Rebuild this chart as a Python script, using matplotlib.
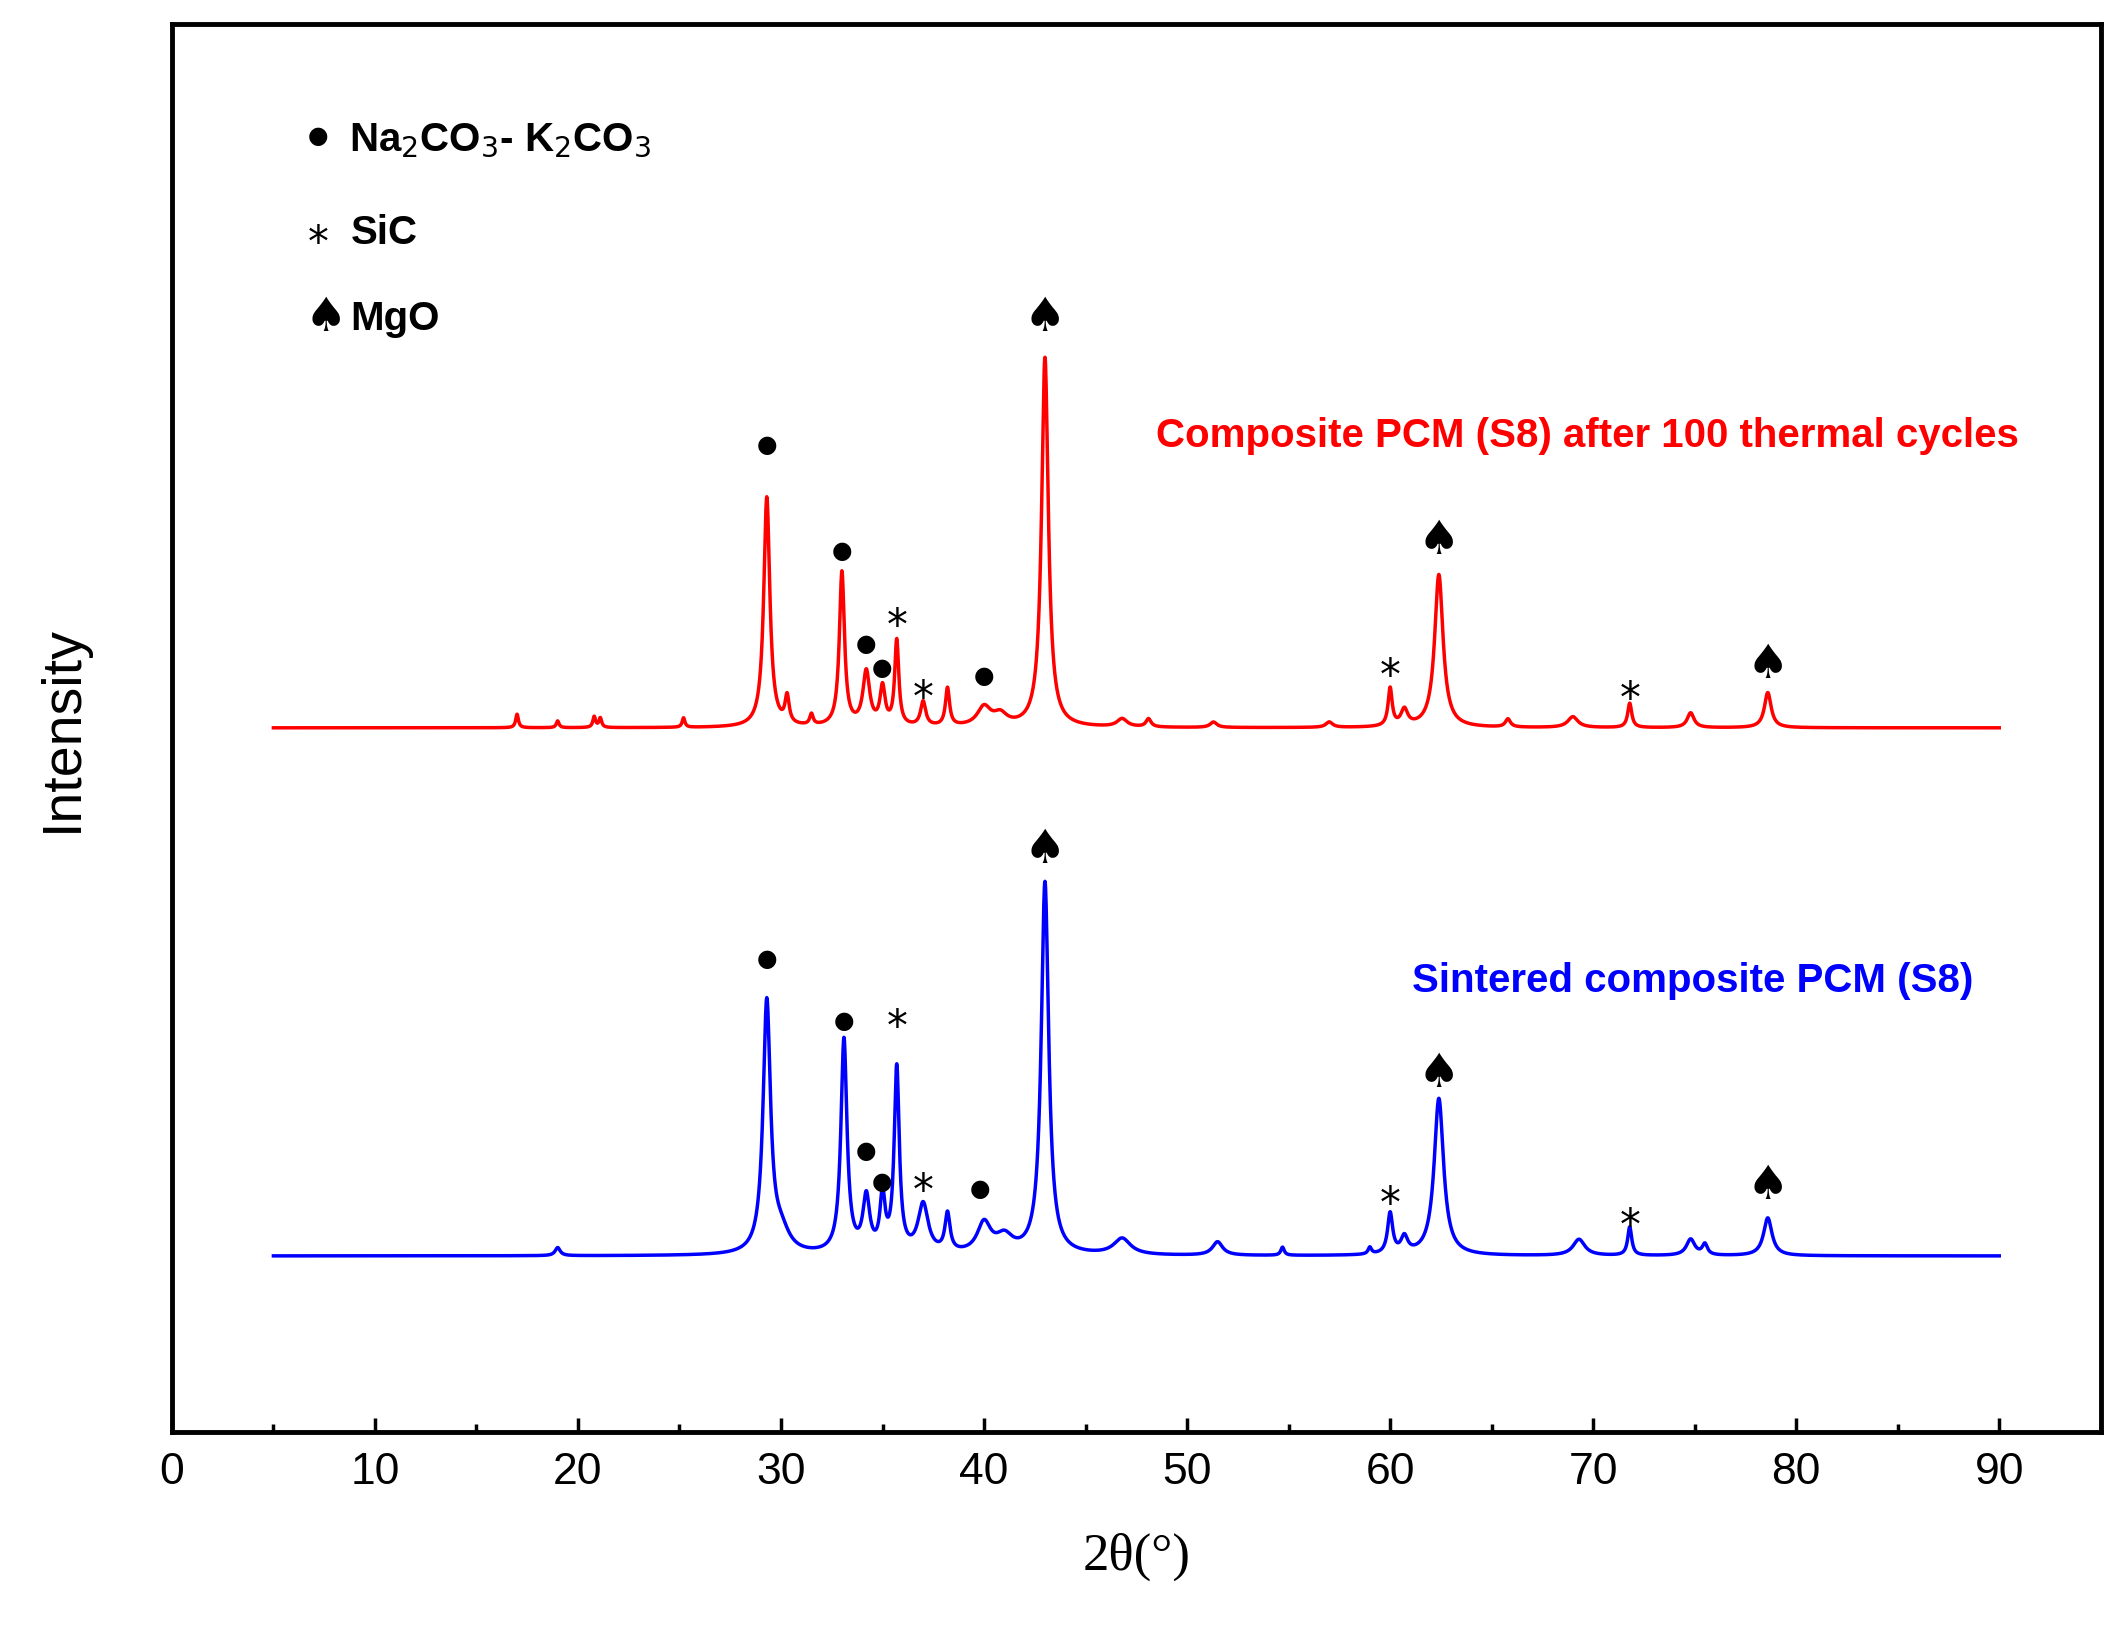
import numpy as np
import matplotlib.pyplot as plt
from matplotlib.ticker import MultipleLocator

# peak lists: position (2theta), height, half width
red_pos = [17.0, 19.0, 20.8, 21.1, 25.2, 29.3, 30.3, 31.5, 33.0, 34.2, 35.0, 35.7, 37.0, 38.2, 40.0, 40.8, 43.0,
           46.8, 48.1, 51.3, 57.0, 60.0, 60.7, 62.4, 65.8, 69.0, 71.8, 74.8, 78.6]
red_h = [10, 5, 8, 7, 7, 170, 20, 8, 114, 40, 28, 63, 18, 28, 14, 8, 273,
         6, 6, 4, 4, 28, 12, 113, 6, 8, 18, 11, 26]
red_w = [0.08, 0.08, 0.08, 0.08, 0.08, 0.18, 0.12, 0.1, 0.15, 0.2, 0.15, 0.12, 0.15, 0.12, 0.4, 0.4, 0.2,
         0.3, 0.15, 0.2, 0.2, 0.12, 0.2, 0.25, 0.15, 0.3, 0.12, 0.2, 0.2]
blue_pos = [19.0, 29.3, 30.0, 33.1, 34.2, 35.0, 35.7, 37.0, 38.2, 40.0, 41.0, 43.0, 46.8, 51.5, 54.7, 59.0,
            60.0, 60.7, 62.4, 69.3, 71.8, 74.8, 75.5, 78.6]
blue_h = [6, 185, 15, 158, 40, 40, 136, 36, 28, 22, 12, 275, 12, 10, 6, 5,
          30, 12, 116, 12, 21, 12, 8, 28]
blue_w = [0.15, 0.22, 0.5, 0.18, 0.2, 0.15, 0.15, 0.3, 0.15, 0.4, 0.5, 0.22, 0.5, 0.3, 0.1, 0.1,
          0.15, 0.2, 0.28, 0.35, 0.12, 0.25, 0.15, 0.25]
red_base = 520
blue_base = 130

# phase markers: symbol, position, height of the marker
red_sym = ["●", "●", "●", "●", "*", "*", "●", "♠", "*", "♠", "*", "♠"]
red_mx = [29.3, 33.0, 34.2, 35.0, 35.7, 37.0, 40.0, 43.0, 60.0, 62.4, 71.8, 78.6]
red_my = [730, 651, 583, 565, 603, 550, 559, 823, 566, 658, 549, 567]
blue_sym = ["●", "●", "●", "●", "*", "*", "●", "♠", "*", "♠", "*", "♠"]
blue_mx = [29.3, 33.1, 34.2, 35.0, 35.7, 37.0, 39.8, 43.0, 60.0, 62.4, 71.8, 78.6]
blue_my = [350, 304, 208, 185, 307, 186, 180, 430, 176, 265, 160, 182]

x = np.linspace(5, 90, 6000)


def profile(pos, h, w, base):
    y = np.full_like(x, base, dtype=float)
    for p, hh, ww in zip(pos, h, w):
        y += hh / (1 + ((x - p) / ww) ** 2)
    return y


red_y = profile(red_pos, red_h, red_w, red_base)
blue_y = profile(blue_pos, blue_h, blue_w, blue_base)

fig = plt.figure(figsize=(21.22, 16.49), dpi=100)
ax = fig.add_axes([0.081, 0.131, 0.909, 0.854])
ax.plot(x, red_y, color="red", lw=2.5)
ax.plot(x, blue_y, color="blue", lw=2.5)

SIZES = {"●": 17, "*": 30, "♠": 34}
OFFS = {"●": 0, "*": -8, "♠": 0}


def mark(syms, mx, my):
    for s, p, yy in zip(syms, mx, my):
        ax.text(p, yy + OFFS[s], s, ha="center", va="center", fontsize=SIZES[s],
                family=["DejaVu Sans"], color="black")


mark(red_sym, red_mx, red_my)
mark(blue_sym, blue_mx, blue_my)

lab_font = dict(fontsize=29, fontweight="bold", family="Liberation Sans", va="center")
ax.text(7.2, 958, "●", fontsize=17, ha="center", va="center")
ax.text(7.2, 878, "*", fontsize=30, ha="center", va="center")
ax.text(7.6, 823, "♠", fontsize=34, ha="center", va="center")
ax.text(8.7, 955, "Na$_2$CO$_3$- K$_2$CO$_3$", **lab_font)
ax.text(8.8, 886, "SiC", **lab_font)
ax.text(8.8, 823, "MgO", **lab_font)

ax.text(69.7, 736, "Composite PCM (S8) after 100 thermal cycles", color="red",
        ha="center", **lab_font)
ax.text(74.9, 334, "Sintered composite PCM (S8)", color="blue", ha="center", **lab_font)

ax.set_xlim(0, 95)
ax.set_ylim(0, 1040)
ax.set_yticks([])
ax.set_xticks(range(0, 91, 10))
ax.xaxis.set_minor_locator(MultipleLocator(5))
ax.tick_params(axis="x", which="major", direction="in", length=10, width=2.5, labelsize=32, pad=14)
ax.tick_params(axis="x", which="minor", direction="in", length=6, width=2.5)
for lab in ax.get_xticklabels():
    lab.set_family("Liberation Sans")
for s in ax.spines.values():
    s.set_linewidth(3.5)
ax.set_xlabel("2θ(°)", fontsize=38, family="Liberation Serif", labelpad=28)
ax.set_ylabel("Intensity", fontsize=40, family="Liberation Sans", labelpad=60)

fig.savefig("out.png", dpi=100)
